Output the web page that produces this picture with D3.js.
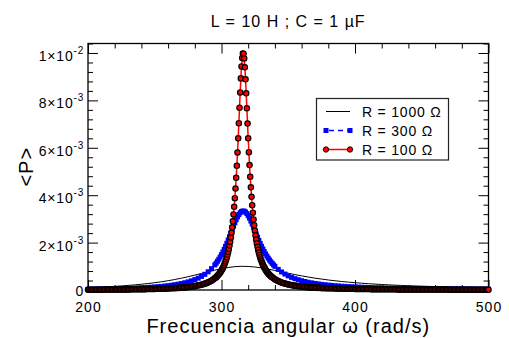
<!DOCTYPE html>
<html><head><meta charset="utf-8">
<script src="https://cdn.jsdelivr.net/npm/d3@7"></script>
<style>
body{margin:0;background:#fff;}
svg{display:block;font-family:"Liberation Sans",Arial,Helvetica,sans-serif;}
</style></head><body>
<svg id="chart" width="509" height="338"></svg>
<script>
// ---------- text ----------
const titleText = "L = 10 H ; C = 1 \u00B5F";
const xLabel = "Frecuencia angular \u03C9 (rad/s)";
const yLabel = "<P>";
const seriesNames = ["R = 1000 \u03A9", "R = 300 \u03A9", "R = 100 \u03A9"];
const xTicks = [200, 300, 400, 500];
const xTickLabels = ["200", "300", "400", "500"];
const yTicks = [0, 2, 4, 6, 8, 10];            // power in units of 1e-3 W
const yTickMantissa = ["0", "2\u00D710", "4\u00D710", "6\u00D710", "8\u00D710", "1\u00D710"];
const yTickExponent = ["", "-3", "-3", "-3", "-3", "-2"];

// ---------- data (omega in rad/s, <P> in units of 1e-3) ----------
const omegaR1000 = [200,205,210,215,220,225,230,235,240,245,250,255,260,265,270,275,280,285,290,295,
300,305,310,315,320,325,330,335,340,345,350,355,360,365,370,375,380,385,390,395,
400,405,410,415,420,425,430,435,440,445,450,455,460,465,470,475,480,485,490,495,500];
const powerR1000 = [0.100,0.111,0.124,0.138,0.154,0.172,0.193,0.216,0.243,0.273,0.308,0.347,0.392,0.442,0.498,0.560,0.627,0.697,0.769,0.838,
0.900,0.950,0.984,0.999,0.994,0.971,0.932,0.882,0.826,0.767,0.708,0.650,0.597,0.547,0.501,0.460,0.423,0.389,0.359,0.332,
0.308,0.286,0.266,0.248,0.232,0.217,0.204,0.192,0.181,0.171,0.162,0.153,0.145,0.138,0.131,0.125,0.119,0.114,0.109,0.104,0.100];

const omegaR300 = [200,202.5,205,207.5,210,212.5,215,217.5,220,222.5,
225,227.5,230,232.5,235,237.5,240,242.5,245,247.5,
250,252.5,255,257.5,260,262.5,265,267.5,270,272.5,
275,277.5,280,282.5,285,287.5,290,292.5,295,
296,297,298,299,300,301,302,303,304,305,
306,307,308,309,310,311,312,313,314,315,
316,317,318,319,320,321,322,323,324,325,
326,327,328,329,330,331,332,333,334,335,
336,337,338,339,340,
342.5,345,347.5,350,352.5,355,357.5,360,362.5,365,
367.5,370,372.5,375,377.5,380,382.5,385,387.5,390,
392.5,395,397.5,400,402.5,405,407.5,410,412.5,415,
417.5,420,422.5,425,427.5,430,432.5,435,437.5,440,
442.5,445,447.5,450,452.5,455,457.5,460,462.5,465,
467.5,470,472.5,475,477.5,480,482.5,485,487.5,490,
492.5,495,497.5,500];
const powerR300 = [0.033,0.035,0.037,0.039,0.042,0.045,0.047,0.050,0.054,0.057,
0.061,0.066,0.070,0.075,0.081,0.087,0.093,0.101,0.109,0.118,
0.128,0.140,0.152,0.167,0.183,0.201,0.222,0.246,0.273,0.306,
0.343,0.387,0.438,0.499,0.573,0.661,0.768,0.899,1.058,
1.132,1.212,1.298,1.391,1.492,1.600,1.716,1.840,1.971,2.108,
2.251,2.398,2.547,2.693,2.835,2.967,3.085,3.184,3.261,3.311,
3.333,3.325,3.288,3.224,3.137,3.031,2.910,2.779,2.641,2.501,
2.361,2.224,2.091,1.964,1.843,1.730,1.623,1.523,1.431,1.344,
1.264,1.190,1.121,1.057,0.998,
0.869,0.761,0.672,0.596,0.532,0.478,0.432,0.392,0.358,0.327,
0.301,0.277,0.256,0.237,0.221,0.206,0.193,0.181,0.170,0.160,
0.151,0.143,0.135,0.128,0.122,0.116,0.111,0.105,0.101,0.096,
0.092,0.088,0.085,0.081,0.078,0.075,0.073,0.070,0.067,0.065,
0.063,0.061,0.059,0.057,0.055,0.053,0.052,0.050,0.049,0.047,
0.046,0.045,0.044,0.042,0.041,0.040,0.039,0.038,0.037,0.036,
0.035,0.035,0.034,0.033];

const omegaR100 = [200,201,202,203,204,205,206,207,208,209,
210,211,212,213,214,215,216,217,218,219,
220,221,222,223,224,225,226,227,228,229,
230,231,232,233,234,235,236,237,238,239,
240,241,242,243,244,245,246,247,248,249,
250,251,252,253,254,255,256,257,258,259,
260,261,262,263,264,265,266,267,268,269,
270,271,272,273,274,275,276,277,278,279,
280,281,282,283,284,285,286,287,288,289,
290,291,292,293,294,295,
295.5,296,296.5,297,297.5,298,298.5,299,299.5,
300,300.5,301,301.5,302,302.5,303,303.5,304,304.5,
305,305.5,306,306.5,307,307.5,308,308.5,309,309.5,
310,310.5,311,311.5,312,312.5,313,313.5,314,314.5,
315,315.5,316,316.5,317,317.5,318,318.5,319,319.5,
320,320.5,321,321.5,322,322.5,323,323.5,324,324.5,
325,325.5,326,326.5,327,327.5,328,328.5,329,329.5,
330,330.5,331,331.5,332,332.5,333,333.5,334,334.5,
335,335.5,336,336.5,337,337.5,338,
339,
340,341,342,343,344,345,346,347,348,349,
350,351,352,353,354,355,356,357,358,359,
360,361,362,363,364,365,366,367,368,369,
370,371,372,373,374,375,376,377,378,379,
380,381,382,383,384,385,386,387,388,389,
390,391,392,393,394,395,396,397,398,399,
400,401,402,403,404,405,406,407,408,409,
410,411,412,413,414,415,416,417,418,419,
420,421,422,423,424,425,426,427,428,429,
430,431,432,433,434,435,436,437,438,439,
440,441,442,443,444,445,446,447,448,449,
450,451,452,453,454,455,456,457,458,459,
460,461,462,463,464,465,466,467,468,469,
470,471,472,473,474,475,476,477,478,479,
480,481,482,483,484,485,486,487,488,489,
490,491,492,493,494,495,496,497,498,499,500];
const powerR100 = [0.01,0.01,0.01,0.01,0.01,0.01,0.01,0.01,0.01,0.01,
0.01,0.01,0.01,0.02,0.02,0.02,0.02,0.02,0.02,0.02,
0.02,0.02,0.02,0.02,0.02,0.02,0.02,0.02,0.02,0.02,
0.02,0.02,0.03,0.03,0.03,0.03,0.03,0.03,0.03,0.03,
0.03,0.03,0.03,0.03,0.04,0.04,0.04,0.04,0.04,0.04,
0.04,0.05,0.05,0.05,0.05,0.05,0.05,0.06,0.06,0.06,
0.06,0.07,0.07,0.07,0.08,0.08,0.08,0.09,0.09,0.09,
0.10,0.10,0.11,0.11,0.12,0.13,0.13,0.14,0.15,0.16,
0.165,0.175,0.186,0.198,0.211,0.225,0.241,0.258,0.277,0.298,
0.322,0.348,0.378,0.411,0.449,0.492,
0.515,0.540,0.568,0.597,0.628,0.662,0.698,0.737,0.780,
0.826,0.876,0.930,0.990,1.055,1.126,1.204,1.290,1.384,1.489,
1.605,1.734,1.878,2.038,2.218,2.419,2.645,2.899,3.186,3.509,
3.872,4.279,4.735,5.241,5.797,6.398,7.037,7.692,8.333,8.928,
9.430,9.792,9.979,9.971,9.768,9.394,8.889,8.299,7.665,7.023,
6.400,5.813,5.270,4.776,4.331,3.932,3.576,3.260,2.977,2.727,
2.503,2.303,2.125,1.965,1.821,1.692,1.576,1.470,1.375,1.288,
1.209,1.136,1.070,1.010,0.954,0.903,0.855,0.812,0.771,0.733,
0.698,0.666,0.636,0.607,0.581,0.556,0.533,
0.491,
0.454,0.420,0.391,0.364,0.340,0.318,0.299,0.281,0.265,0.250,
0.236,0.224,0.212,0.202,0.192,0.183,0.174,0.166,0.159,0.152,
0.146,0.14,0.13,0.13,0.12,0.12,0.11,0.11,0.11,0.10,
0.10,0.10,0.09,0.09,0.09,0.08,0.08,0.08,0.08,0.07,
0.07,0.07,0.07,0.07,0.07,0.06,0.06,0.06,0.06,0.06,
0.06,0.05,0.05,0.05,0.05,0.05,0.05,0.05,0.05,0.05,
0.04,0.04,0.04,0.04,0.04,0.04,0.04,0.04,0.04,0.04,
0.04,0.04,0.03,0.03,0.03,0.03,0.03,0.03,0.03,0.03,
0.03,0.03,0.03,0.03,0.03,0.03,0.03,0.03,0.03,0.03,
0.03,0.03,0.02,0.02,0.02,0.02,0.02,0.02,0.02,0.02,
0.02,0.02,0.02,0.02,0.02,0.02,0.02,0.02,0.02,0.02,
0.02,0.02,0.02,0.02,0.02,0.02,0.02,0.02,0.02,0.02,
0.02,0.02,0.02,0.02,0.02,0.02,0.02,0.02,0.02,0.02,
0.02,0.01,0.01,0.01,0.01,0.01,0.01,0.01,0.01,0.01,
0.01,0.01,0.01,0.01,0.01,0.01,0.01,0.01,0.01,0.01,
0.01,0.01,0.01,0.01,0.01,0.01,0.01,0.01,0.01,0.01,0.01];

// ---------- drawing ----------
const svg = d3.select("#chart");
const L = 88, R = 488.5, T = 43.5, B = 290;
const x = d3.scaleLinear().domain([200, 500]).range([L, R]);
const y = d3.scaleLinear().domain([0, 10.4]).range([B, T]);

const xMinor = d3.range(0, 16).map(i => 200 + i * 20).filter(v => !xTicks.includes(v));
const yMinor = d3.range(0, 27).filter(i => i % 5 !== 0).map(i => i * 0.4);

function styleAxis(g) {
  g.select(".domain").remove();
  g.selectAll(".tick line").attr("stroke", "#000").attr("stroke-width", 1);
}
// bottom
svg.append("g").attr("transform", `translate(0,${B})`)
  .call(d3.axisBottom(x).tickValues(xTicks).tickSize(-10).tickFormat((d, i) => xTickLabels[i]))
  .call(styleAxis)
  .call(g => g.selectAll("text").attr("y", 22).attr("dy", null)
     .attr("font-size", 14).attr("letter-spacing", 1).attr("fill", "#000")
     .attr("font-family", "Liberation Sans, Arial, sans-serif"));
svg.append("g").attr("transform", `translate(0,${B})`)
  .call(d3.axisBottom(x).tickValues(xMinor).tickSize(-5).tickFormat(""))
  .call(styleAxis);
// top
svg.append("g").attr("transform", `translate(0,${T})`)
  .call(d3.axisTop(x).tickValues(xTicks).tickSize(-10).tickFormat(""))
  .call(styleAxis);
svg.append("g").attr("transform", `translate(0,${T})`)
  .call(d3.axisTop(x).tickValues(xMinor).tickSize(-5).tickFormat(""))
  .call(styleAxis);
// left
svg.append("g").attr("transform", `translate(${L},0)`)
  .call(d3.axisLeft(y).tickValues(yTicks).tickSize(-10).tickFormat((d, i) => yTickMantissa[i]))
  .call(styleAxis)
  .call(g => g.selectAll("text").attr("x", -4).attr("y", (d, i) => i === 0 ? 5.5 : 7.5).attr("dy", null)
     .attr("font-size", 14).attr("letter-spacing", 0.8).attr("fill", "#000")
     .attr("font-family", "Liberation Sans, Arial, sans-serif")
     .each(function(d, i) {
        const e = yTickExponent[i];
        if (e) d3.select(this).append("tspan").attr("dy", -7).attr("font-size", 10).text(e);
     }));
svg.append("g").attr("transform", `translate(${L},0)`)
  .call(d3.axisLeft(y).tickValues(yMinor).tickSize(-5).tickFormat(""))
  .call(styleAxis);
// right
svg.append("g").attr("transform", `translate(${R},0)`)
  .call(d3.axisRight(y).tickValues(yTicks).tickSize(-10).tickFormat(""))
  .call(styleAxis);
svg.append("g").attr("transform", `translate(${R},0)`)
  .call(d3.axisRight(y).tickValues(yMinor).tickSize(-5).tickFormat(""))
  .call(styleAxis);

// frame
svg.append("rect").attr("x", L).attr("y", T).attr("width", R - L).attr("height", B - T)
  .attr("fill", "none").attr("stroke", "#000").attr("stroke-width", 1.3);

// series
const line = d3.line().x(d => x(d[0])).y(d => y(d[1]));
const d1000 = omegaR1000.map((w, i) => [w, powerR1000[i]]);
const d300 = omegaR300.map((w, i) => [w, powerR300[i]]);
const d100 = omegaR100.map((w, i) => [w, powerR100[i]]);

svg.append("path").attr("d", line(d1000)).attr("fill", "none").attr("stroke", "#000").attr("stroke-width", 1);

svg.append("path").attr("d", line(d300)).attr("fill", "none").attr("stroke", "#0000ff")
  .attr("stroke-width", 1.5).attr("stroke-dasharray", "5,4");
const sq = 5;
svg.append("g").selectAll("rect").data(d300).join("rect")
  .attr("x", d => x(d[0]) - sq / 2).attr("y", d => y(d[1]) - sq / 2)
  .attr("width", sq).attr("height", sq).attr("fill", "#0000ff");

svg.append("path").attr("d", line(d100)).attr("fill", "none").attr("stroke", "#ff0000").attr("stroke-width", 1.5);
svg.append("g").selectAll("circle").data(d100).join("circle")
  .attr("cx", d => x(d[0])).attr("cy", d => y(d[1])).attr("r", 2.7)
  .attr("fill", "#ff0000").attr("stroke", "#000").attr("stroke-width", 1.15);

// legend
const lg = svg.append("g");
lg.append("rect").attr("x", 316.5).attr("y", 98.5).attr("width", 132).attr("height", 61.5)
  .attr("fill", "#fff").attr("stroke", "#222").attr("stroke-width", 1.2);
const rowY = [111.5, 130.5, 149.5];
const x1 = 326, x2 = 350;
lg.append("line").attr("x1", x1).attr("x2", x2).attr("y1", rowY[0]).attr("y2", rowY[0]).attr("stroke", "#000").attr("stroke-width", 1);
lg.append("line").attr("x1", x1).attr("x2", x2).attr("y1", rowY[1]).attr("y2", rowY[1]).attr("stroke", "#0000ff").attr("stroke-width", 1.5).attr("stroke-dasharray", "5,4").attr("stroke-dashoffset", -3);
[x1, x2].forEach(px => lg.append("rect").attr("x", px - 2.5).attr("y", rowY[1] - 2.5).attr("width", 5).attr("height", 5).attr("fill", "#0000ff"));
lg.append("line").attr("x1", x1).attr("x2", x2).attr("y1", rowY[2]).attr("y2", rowY[2]).attr("stroke", "#ff0000").attr("stroke-width", 1.5);
[x1, x2].forEach(px => lg.append("circle").attr("cx", px).attr("cy", rowY[2]).attr("r", 2.7).attr("fill", "#ff0000").attr("stroke", "#000").attr("stroke-width", 0.9));
seriesNames.forEach((n, i) => lg.append("text").attr("x", 362).attr("y", rowY[i] + 5)
  .attr("font-size", 14).attr("letter-spacing", 0.8).text(n));

// titles
svg.append("text").attr("x", (L + R) / 2).attr("y", 27).attr("text-anchor", "middle")
  .attr("font-size", 16).attr("letter-spacing", 1).text(titleText);
svg.append("text").attr("x", (L + R) / 2).attr("y", 333).attr("text-anchor", "middle")
  .attr("font-size", 20).attr("letter-spacing", 1).text(xLabel);
svg.append("text").attr("transform", `translate(33,${(T + B) / 2}) rotate(-90)`).attr("text-anchor", "middle")
  .attr("font-size", 20).attr("letter-spacing", 1).text(yLabel);
</script>
</body></html>
